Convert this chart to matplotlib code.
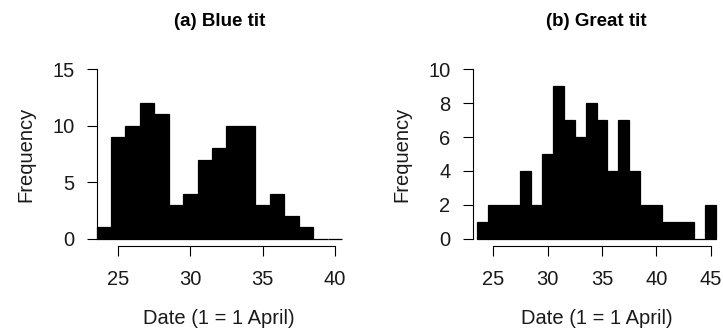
"""
Laying-date histograms for blue tits and great tits.
"""
import matplotlib
matplotlib.use("Agg")
import matplotlib.pyplot as plt
import numpy as np

# bin edges and counts (bins are 1 day wide)
blueEdges = np.arange(23.5, 41.0, 1.0)
blueCounts = [1, 9, 10, 12, 11, 3, 4, 7, 8, 10, 10, 3, 4, 2, 1, 0, 0]

greatEdges = np.arange(23.5, 46.0, 1.0)
greatCounts = [1, 2, 2, 2, 4, 2, 5, 9, 7, 6, 8, 7, 4, 7, 4, 2, 2, 1, 1, 1, 0, 2]

blueTicksX = [25, 30, 35, 40]
greatTicksX = [25, 30, 35, 40, 45]
blueTicksY = [0, 5, 10, 15]
greatTicksY = [0, 2, 4, 6, 8, 10]

titles = ["(a) Blue tit", "(b) Great tit"]
xLabel = "Date (1 = 1 April)"
yLabel = "Frequency"

plt.rcParams["font.family"] = ["Liberation Sans", "DejaVu Sans"]
textColor = "#1a1a1a"


def drawHist(ax, edges, counts, xticks, yticks, title):
    """
    Draws one R-style histogram panel.
    """
    centers = (edges[:-1] + edges[1:]) / 2
    _, _, patches = ax.hist(centers, bins=edges, weights=counts,
                            color="black", edgecolor="black", linewidth=0.9)
    for p in patches:
        p.set_clip_on(False)

    ax.set_xlim(edges[0], edges[-1])
    ax.set_ylim(yticks[0], yticks[-1])
    ax.set_xticks(xticks)
    ax.set_yticks(yticks)

    for side in ["top", "right"]:
        ax.spines[side].set_visible(False)
    ax.spines["bottom"].set_position(("outward", 5.2))
    ax.spines["bottom"].set_bounds(xticks[0], xticks[-1])
    ax.spines["left"].set_bounds(yticks[0], yticks[-1])
    for side in ["bottom", "left"]:
        ax.spines[side].set_linewidth(0.8)

    ax.tick_params(axis="both", length=7.5, width=0.8, labelsize=14.5,
                   labelcolor=textColor, direction="out")
    ax.tick_params(axis="x", pad=10)
    ax.tick_params(axis="y", pad=8.5)

    ax.set_xlabel(xLabel, fontsize=14.5, color=textColor, labelpad=14.5)
    ax.set_ylabel(yLabel, fontsize=14.5, color=textColor, labelpad=12)
    ax.set_title(title, fontsize=13.5, fontweight="bold", pad=31)


fig = plt.figure(figsize=(7.23, 3.35), dpi=100)
axA = fig.add_axes([96.5 / 723, 0.2875, 245.5 / 723, 0.5057])
axB = fig.add_axes([477 / 723, 0.2875, 239 / 723, 0.5057])

drawHist(axA, blueEdges, blueCounts, blueTicksX, blueTicksY, titles[0])
drawHist(axB, greatEdges, greatCounts, greatTicksX, greatTicksY, titles[1])
axB.spines["left"].set_position(("outward", 3))

fig.savefig("out.png", dpi=100)
